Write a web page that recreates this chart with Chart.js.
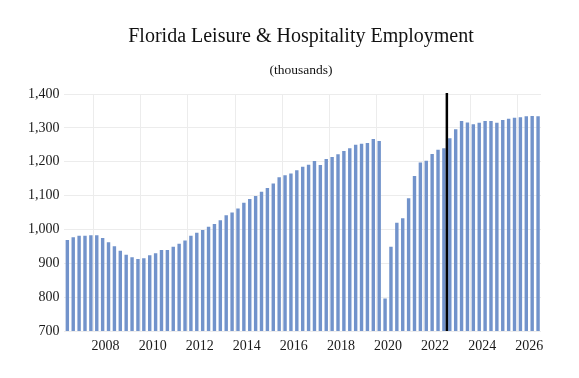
<!DOCTYPE html>
<html lang="en">
<head>
  <meta charset="UTF-8">
  <title>Florida Leisure &amp; Hospitality Employment</title>
  <script src="https://cdn.jsdelivr.net/npm/chart.js"></script>
  <style>
    body {
      margin: 0;
      background: white;
    }
    #wrap {
      width: 579px;
      height: 378px;
    }
  </style>
</head>
<body>
  <div id="wrap">
    <canvas id="chart"></canvas>
  </div>

  <script>
    // quarterly series, first bar is 2006 Q4
    const firstYear = 2006;
    const firstQuarter = 4;

    const employment = [
      969, 977, 981, 981, 983, 983, 975, 962, 950, 937,
      925, 918, 913, 915, 924, 930, 939, 939, 949, 958,
      967, 981, 990, 998, 1008, 1016, 1027, 1042, 1050, 1062,
      1079, 1090, 1099, 1111, 1122, 1136, 1154, 1160, 1165, 1175,
      1185, 1191, 1202, 1190, 1208, 1214, 1222, 1232, 1240, 1250,
      1253, 1255, 1267, 1261, 796, 949, 1020, 1033, 1092, 1158,
      1198, 1203, 1223, 1235, 1240, 1269, 1296, 1320, 1316, 1311,
      1315, 1320, 1320, 1315, 1323, 1327, 1330, 1331, 1334, 1335,
      1334
    ];

    const yearTicks = [2008, 2010, 2012, 2014, 2016, 2018, 2020, 2022, 2024, 2026];
    const yTicks = [700, 800, 900, 1000, 1100, 1200, 1300, 1400];
    const forecastStart = 2022.5; // between 2022 Q4 and 2023 Q1

    const titleText = 'Florida Leisure & Hospitality Employment';
    const subtitleText = '(thousands)';

    // bar x = year + (quarter - 2.5) / 4, so each year's four bars centre on the year
    const points = employment.map((v, i) => {
      const q = firstQuarter - 1 + i;
      const year = firstYear + Math.floor(q / 4);
      const quarter = (q % 4) + 1;
      return { x: year + (quarter - 2.5) / 4, y: v };
    });

    // faint vertical grid between the two-year label groups
    const gridYears = yearTicks.slice(0, -1).map(y => y + 1.5).concat([2007.5]);

    // titles are centred a bit right of the canvas middle, so draw them by hand
    const titles = {
      id: 'titles',
      afterDraw(chart) {
        const ctx = chart.ctx;
        ctx.save();
        ctx.fillStyle = '#111';
        ctx.textAlign = 'center';
        ctx.textBaseline = 'middle';
        ctx.font = '20px "Liberation Serif"';
        ctx.fillText(titleText, 301, 37);
        ctx.font = '13.5px "Liberation Serif"';
        ctx.fillText(subtitleText, 301, 70);
        ctx.restore();
      }
    };

    const forecastLine = {
      id: 'forecastLine',
      afterDatasetsDraw(chart) {
        const x = chart.scales.x.getPixelForValue(forecastStart);
        const { top, bottom } = chart.chartArea;
        const ctx = chart.ctx;
        ctx.save();
        ctx.strokeStyle = '#000';
        ctx.lineWidth = 2.5;
        ctx.beginPath();
        ctx.moveTo(x, top - 1);
        ctx.lineTo(x, bottom);
        ctx.stroke();
        ctx.restore();
      }
    };

    new Chart(document.getElementById('chart'), {
      type: 'bar',
      data: {
        datasets: [{
          data: points,
          backgroundColor: '#7293cb',
          categoryPercentage: 1,
          barPercentage: 0.58
        }]
      },
      options: {
        responsive: true,
        maintainAspectRatio: false,
        animation: false,
        layout: { padding: { left: 0, right: 38, top: 94, bottom: 0 } },
        plugins: {
          legend: { display: false },
          tooltip: { enabled: false }
        },
        scales: {
          x: {
            type: 'linear',
            offset: false,
            min: 2006.25,
            max: 2026.5,
            border: { display: false },
            grid: {
              offset: false,
              drawTicks: false,
              color: ctx => (ctx.tick && !Number.isInteger(ctx.tick.value)) ? '#ececec' : 'rgba(0,0,0,0)'
            },
            afterBuildTicks: scale => {
              scale.ticks = yearTicks.concat(gridYears).sort((a, b) => a - b).map(v => ({ value: v }));
            },
            afterFit: scale => { scale.height = 47; },
            ticks: {
              autoSkip: false,
              maxRotation: 0,
              padding: 7,
              color: '#1a1a1a',
              font: { family: 'Liberation Serif', size: 14 },
              callback: v => Number.isInteger(v) ? String(v) : ''
            }
          },
          y: {
            min: 700,
            max: 1400,
            border: { display: false },
            grid: { color: '#ececec', drawTicks: false },
            afterBuildTicks: scale => {
              scale.ticks = yTicks.map(v => ({ value: v }));
            },
            afterFit: scale => { scale.width = 64.4; },
            ticks: {
              padding: 5,
              color: '#1a1a1a',
              font: { family: 'Liberation Serif', size: 14 },
              callback: v => v.toLocaleString('en-US')
            }
          }
        }
      },
      plugins: [forecastLine, titles]
    });
  </script>
</body>
</html>
